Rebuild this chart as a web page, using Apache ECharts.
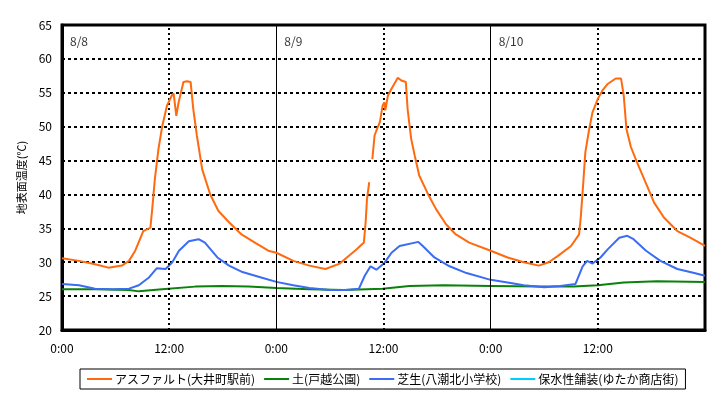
<!DOCTYPE html>
<html>
<head>
<meta charset="utf-8">
<script src="https://cdn.jsdelivr.net/npm/echarts@6/dist/echarts.min.js"></script>
<style>
  html, body { margin: 0; padding: 0; background: #fff; }
  #main { width: 721px; height: 399px; }
</style>
</head>
<body>
<div id="main"></div>
<script>
// hours from 8/8 0:00, temperature in deg C
var seriesNames = ['アスファルト(大井町駅前)', '土(戸越公園)', '芝生(八潮北小学校)', '保水性舗装(ゆたか商店街)'];
var seriesColors = ['#ff6a0e', '#0a820a', '#3a6cf4', '#00ccff'];

var asphalt = [
  [0, 30.6], [1.9, 30.2], [3.7, 29.7], [5.2, 29.2], [6.7, 29.5], [7.5, 30.2], [8.2, 31.7],
  [9.1, 34.6], [9.9, 35.1], [10.1, 37.8], [10.4, 42.3], [10.8, 46.7], [11.2, 49.9],
  [11.75, 53.1], [12.3, 54.6], [12.5, 54.9], [12.8, 51.6], [13.06, 53.6], [13.6, 56.6],
  [14.0, 56.7], [14.4, 56.6], [14.7, 52.6], [15.1, 48.7], [15.7, 43.7], [16.6, 40.0],
  [17.5, 37.6], [18.7, 35.9], [20.1, 34.1], [21.6, 32.9], [23.1, 31.7], [24.0, 31.4],
  [25.9, 30.2], [27.7, 29.5], [29.5, 29.0], [31.1, 29.8], [31.8, 30.6], [33.0, 31.9],
  [33.8, 32.9], [34.0, 35.9], [34.15, 39.3], [34.4, 41.8], [34.55, null], [34.75, 45.2],
  [35.0, 48.7], [35.2, 49.4], [35.6, 50.7], [35.9, 53.1], [36.1, 53.6], [36.2, 52.4],
  [36.5, 54.6], [36.9, 55.6], [37.6, 57.2], [38.0, 56.8], [38.5, 56.6], [38.7, 52.6],
  [39.1, 48.2], [39.5, 45.7], [40.0, 42.8], [41.0, 40.0], [41.9, 37.8], [43.0, 35.6],
  [44.1, 34.1], [45.6, 32.9], [48.0, 31.7],
  [49.9, 30.7], [51.7, 30.0], [53.4, 29.5], [54.5, 30.0], [55.5, 30.9], [57.0, 32.4],
  [57.9, 34.1], [58.1, 36.8], [58.4, 42.3], [58.6, 46.2], [59.0, 49.4], [59.4, 52.1],
  [60.0, 54.1], [60.5, 55.3], [61.1, 56.3], [62.0, 57.1], [62.6, 57.1], [62.9, 54.6],
  [63.2, 49.7], [63.7, 47.0], [64.4, 44.7], [65.5, 41.3], [66.3, 38.8], [67.4, 36.6],
  [68.9, 34.6], [70.4, 33.6], [72, 32.4]
];

var soil = [
  [0, 26.0], [3.7, 26.0], [7.5, 25.9], [8.6, 25.7], [11.2, 26.0], [14.9, 26.4], [17.9, 26.5],
  [20.9, 26.4], [24, 26.2], [27.7, 26.0], [31.5, 25.9], [35.9, 26.1], [38.9, 26.5],
  [42.7, 26.6], [48, 26.5], [53.6, 26.4], [57.3, 26.4], [60, 26.6], [62.9, 27.0],
  [66.6, 27.2], [72, 27.1]
];

var lawn = [
  [0, 26.8], [1.9, 26.6], [3.7, 26.1], [5.6, 26.0], [7.5, 26.1], [8.6, 26.6], [9.7, 27.7],
  [10.6, 29.1], [11.6, 29.0], [12.3, 29.9], [13.1, 31.7], [14.2, 33.1], [15.3, 33.4],
  [16.0, 32.9], [17.4, 30.7], [18.7, 29.5], [20.1, 28.6], [22.4, 27.7], [24.0, 27.1],
  [25.9, 26.6], [27.7, 26.2], [30.0, 25.9], [31.8, 25.9], [33.25, 26.1], [33.9, 28.0],
  [34.55, 29.4], [35.2, 28.9], [36.1, 29.9], [36.9, 31.4], [37.8, 32.4], [39.9, 33.0],
  [40.4, 32.4], [41.7, 30.7], [43.4, 29.4], [45.3, 28.4], [48.0, 27.4], [49.9, 27.0],
  [51.7, 26.6], [54.0, 26.3], [55.8, 26.5], [57.5, 26.8], [58.3, 29.4], [58.8, 30.2],
  [59.4, 29.8], [60.3, 30.7], [61.1, 31.9], [62.4, 33.6], [63.3, 33.9], [64.0, 33.4],
  [65.4, 31.7], [67.0, 30.2], [68.9, 29.0], [70.8, 28.4], [72, 28.0]
];

var waterRetaining = [];

var dayStarts = [0, 24, 48];
var dateLabels = ['8/8', '8/9', '8/10'];

var font = "'Noto Sans CJK JP', sans-serif";

var datePoints = [];
for (var i = 0; i < dayStarts.length; i++) {
  datePoints.push({ value: [dayStarts[i], 62.6], label: { formatter: dateLabels[i] } });
}

var chart = echarts.init(document.getElementById('main'));

var option = {
  backgroundColor: '#fff',
  animation: false,
  textStyle: { fontFamily: font },
  grid: {
    left: 62, right: 16, top: 25, bottom: 69,
    show: true, borderColor: '#000', borderWidth: 3
  },
  legend: {
    data: seriesNames,
    left: 80, top: 369,
    padding: [4, 7],
    itemGap: 9,
    itemWidth: 25,
    itemHeight: 2,
    icon: 'rect',
    borderColor: '#000',
    borderWidth: 1,
    borderRadius: 0,
    textStyle: { fontSize: 12, color: '#000', fontFamily: font, padding: [0, 0, 0, -2] }
  },
  xAxis: {
    type: 'value',
    min: 0, max: 72, interval: 12,
    axisLine: { lineStyle: { color: '#000', width: 3 } },
    axisTick: { show: false },
    splitLine: { show: false },
    axisLabel: {
      margin: 12, color: '#000', fontSize: 12, fontFamily: font,
      formatter: function (v) { return v >= 72 ? '' : (v % 24) + ':00'; }
    }
  },
  yAxis: {
    type: 'value',
    min: 20, max: 65, interval: 5,
    name: '地表面温度(℃)',
    nameLocation: 'middle',
    nameRotate: 90,
    nameGap: 34,
    nameTextStyle: { color: '#000', fontSize: 11, fontFamily: font },
    axisLine: { show: true, lineStyle: { color: '#000', width: 3 } },
    axisTick: { show: false },
    axisLabel: { margin: 10, color: '#000', fontSize: 12, fontFamily: font },
    splitLine: { lineStyle: { color: '#000', type: [3, 3], width: 2 } }
  },
  series: [
    {
      name: seriesNames[0], type: 'line', data: asphalt, showSymbol: false,
      lineStyle: { width: 2, color: seriesColors[0] }, itemStyle: { color: seriesColors[0] }, z: 5
    },
    {
      name: seriesNames[1], type: 'line', data: soil, showSymbol: false,
      lineStyle: { width: 2, color: seriesColors[1] }, itemStyle: { color: seriesColors[1] }, z: 3
    },
    {
      name: seriesNames[2], type: 'line', data: lawn, showSymbol: false,
      lineStyle: { width: 2, color: seriesColors[2] }, itemStyle: { color: seriesColors[2] }, z: 4
    },
    {
      name: seriesNames[3], type: 'line', data: waterRetaining, showSymbol: false,
      lineStyle: { width: 2, color: seriesColors[3] }, itemStyle: { color: seriesColors[3] }
    },
    {
      // date labels + vertical grid lines
      type: 'scatter', symbolSize: 0, data: datePoints, z: 2,
      label: { show: true, position: 'right', distance: 8, color: '#000', fontSize: 12, fontFamily: font },
      markLine: {
        symbol: 'none', silent: true, animation: false,
        label: { show: false },
        data: [
          { xAxis: 12, lineStyle: { color: '#000', type: [2, 3], width: 2 } },
          { xAxis: 36, lineStyle: { color: '#000', type: [2, 3], width: 2 } },
          { xAxis: 60, lineStyle: { color: '#000', type: [2, 3], width: 2 } },
          { xAxis: 24, lineStyle: { color: '#000', type: 'solid', width: 1 } },
          { xAxis: 48, lineStyle: { color: '#000', type: 'solid', width: 1 } }
        ]
      }
    }
  ]
};

chart.setOption(option);
</script>
</body>
</html>
